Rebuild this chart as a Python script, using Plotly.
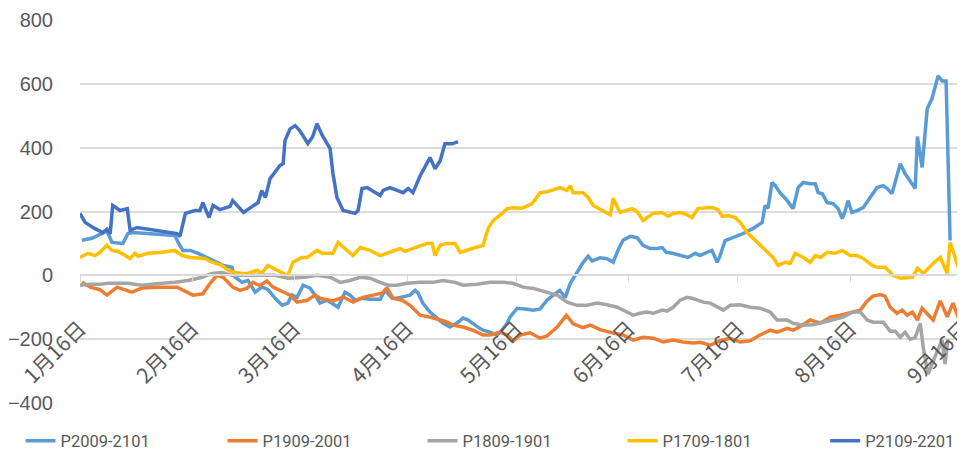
import plotly.graph_objects as go
import pandas as pd

# ---------------- data (days since 1月16日, spread values) ----------------
base_date = "2021-01-16"

p2009_days = [0.5, 3.3, 6, 7.4, 8.8, 11.8, 13.2, 14.6, 26.1, 27,
              28.3, 30.3, 32.5, 35.2, 37.2, 39.4, 41.8, 42.7, 44.6, 46.2,
              48.2, 50, 51.7, 53.7, 55.6, 57.2, 58.3, 59.7, 61.4, 63.3,
              64.7, 66, 68, 69.6, 71, 72.9, 74.3, 75.7, 77.6, 79.8,
              82.6, 83.9, 85.9, 87.2, 90.8, 92.2, 93, 94.3, 96.3, 98.2,
              99.9, 101.8, 104, 105.4, 106.8, 109.2, 110.9, 112.8, 114.8, 116.1,
              117.5, 118.3, 120.3, 123, 124.7, 126.6, 128.5, 130.2, 132, 133.5,
              134.9, 136.8, 138.4, 139.8, 140.9, 143.1, 145, 146.7, 148, 149.4,
              151.4, 153.3, 154.9, 156.9, 158.8, 160.2, 161.3, 163, 165, 167.3,
              169.3, 170.6, 172.5, 173.9, 175.3, 176, 177.5, 179.7, 182.5, 185.2,
              186.6, 187.7, 188.5, 189.3, 190.4, 191.3, 192.6, 194.6, 196.2, 197.6,
              199, 200.9, 202.3, 203.1, 204.2, 205.6, 207.2, 208.6, 209.7, 210.5,
              211.3, 212.4, 213.8, 215.5, 217.4, 219.3, 221, 222.1, 223.4, 225.7,
              227, 229, 229.8, 230.4, 231.7, 233.1, 234.4, 236.1, 237.2, 238.3,
              239.4]
p2009_vals = [110, 116, 131, 140, 103, 100, 131, 134, 125, 103,
              78, 78, 69, 53, 41, 31, 25, -6, -22, -16,
              -53, -37, -44, -72, -94, -87, -62, -69, -31, -40,
              -62, -87, -78, -90, -100, -53, -62, -78, -72, -75,
              -75, -47, -72, -72, -62, -47, -55, -87, -115, -134,
              -150, -162, -147, -134, -140, -160, -172, -178, -187, -172,
              -150, -131, -103, -106, -109, -105, -78, -62, -47, -70,
              -25, 10, 40, 60, 45, 55, 52, 41, 78, 110,
              122, 118, 94, 84, 84, 87, 72, 69, 62, 56,
              69, 62, 72, 78, 41, 58, 109, 119, 131, 147,
              156, 166, 219, 210, 291, 281, 259, 234, 209, 275,
              291, 287, 287, 259, 256, 228, 225, 209, 178, 200,
              234, 197, 203, 212, 244, 275, 281, 272, 256, 350,
              319, 287, 272, 435, 338, 522, 553, 625, 609, 609,
              109]

p1909_days = [0.5, 2.8, 5.5, 7.4, 10.2, 12.4, 14.3, 17, 21.2, 26.7,
              29.4, 31.1, 33.8, 35.8, 37.7, 39.4, 42, 44, 46, 47.6,
              49.5, 51.4, 53.1, 55.9, 57.8, 59.7, 62.5, 64.7, 66, 69.6,
              72.4, 75.1, 77.9, 80.6, 83.1, 84.5, 86.1, 88.6, 90.8, 93.6,
              96.3, 99.1, 101, 102.6, 105.4, 108.1, 110.9, 112.8, 115.6, 117.5,
              119.2, 121.1, 123.8, 126.6, 128.5, 131.3, 133.8, 135.7, 138.4, 140.4,
              143.1, 146.7, 149.4, 152.2, 154.9, 157.7, 160.5, 163.2, 165.9, 168.7,
              170.6, 173.4, 176.1, 178.9, 181.6, 184.4, 187.1, 189.9, 191.8, 194.6,
              196.2, 198.2, 200.9, 203.7, 206.4, 209.2, 212.7, 214.7, 216.6, 218.2,
              220.2, 221.5, 222.9, 224.8, 226.2, 227.6, 229, 230.4, 231.7, 233.1,
              234.7, 236.7, 238.6, 240.2, 241.6, 243.5]
p1909_vals = [-22, -37, -45, -62, -37, -45, -53, -40, -37, -37,
              -53, -62, -58, -25, 0, -6, -37, -47, -40, -22,
              -32, -18, -37, -53, -62, -84, -78, -62, -72, -80,
              -68, -84, -69, -62, -56, -40, -72, -78, -94, -125,
              -131, -140, -147, -156, -162, -172, -187, -187, -178, -187,
              -206, -187, -180, -197, -190, -162, -125, -152, -164, -156,
              -170, -181, -187, -203, -194, -197, -209, -203, -209, -212,
              -210, -219, -205, -197, -209, -205, -187, -172, -178, -166,
              -172, -160, -140, -150, -131, -125, -115, -109, -80, -65,
              -60, -65, -100, -119, -109, -125, -115, -140, -103, -119,
              -140, -80, -130, -87, -131, -172]

p1809_days = [0, 2.8, 5.5, 7.7, 13.2, 17, 22.6, 26.1, 29.7, 33.6,
              36.3, 39.1, 41.8, 44.6, 48.2, 53.7, 57.2, 62, 65.2, 68.8,
              71.6, 74.3, 77.1, 79.8, 82.6, 84.8, 87.2, 90, 93.6, 97.1,
              99.9, 103.2, 105.4, 109.2, 112.8, 116.4, 119.2, 121.9, 124.7, 128.5,
              131.3, 134, 136.8, 139.5, 142.3, 145, 147.8, 150.5, 152.2, 154.1,
              156, 157.7, 160.2, 161.5, 163.2, 165.1, 167, 168.4, 169.8, 171.5,
              173.4, 175.3, 177, 178.9, 181.6, 184.4, 187.1, 189.9, 191.8, 194.6,
              196.2, 199, 201.7, 204.5, 207.2, 210, 212.7, 214.7, 216.6, 218.2,
              221, 222.9, 224.3, 225.7, 227, 228.4, 229.8, 231.2, 232, 233.3,
              234.7, 236.1, 237.2, 238, 238.8]
p1809_vals = [-31, -28, -28, -25, -25, -31, -25, -22, -16, -6,
              6, 9, 0, 0, 0, 0, -9, -6, 0, -6,
              -22, -16, -6, -9, -22, -31, -31, -25, -22, -22,
              -16, -22, -31, -28, -22, -22, -25, -37, -41, -53,
              -62, -84, -94, -94, -87, -92, -100, -115, -125, -119,
              -115, -119, -109, -112, -100, -78, -69, -72, -78, -84,
              -87, -100, -109, -94, -92, -100, -103, -115, -140, -140,
              -150, -156, -155, -147, -140, -131, -115, -115, -140, -147,
              -147, -175, -175, -194, -178, -200, -195, -150, -225, -310,
              -270, -234, -203, -278, -200]

p1709_days = [0, 2.2, 4.1, 5.5, 7.4, 8.8, 10.5, 12.4, 13.8, 15.1,
              16, 18.7, 22.6, 26.1, 28.1, 30.3, 32.5, 34.4, 36.3, 39.1,
              40.7, 42.7, 44.6, 46.2, 48.7, 50, 51.7, 53.1, 54.5, 55.9,
              57.2, 58.6, 61, 62.5, 65.2, 66.6, 69.6, 71, 72.9, 75.1,
              77.1, 79.8, 82.6, 85.3, 88.1, 89.4, 92.2, 95.5, 96.9, 97.7,
              99.1, 101, 103.2, 104.6, 107.9, 110.9, 112.3, 113.7, 116.2, 117.5,
              119.2, 121.6, 124.4, 126.6, 128.5, 132.1, 134, 134.9, 135.7, 138.4,
              139.8, 141.2, 145.9, 146.7, 148.6, 150.5, 151.9, 153.3, 154.9, 157.7,
              160.2, 161.8, 163.2, 165.1, 167, 168.4, 170, 172.5, 174.2, 175.6,
              176.7, 178.3, 180.3, 181.6, 183.6, 185.2, 188, 190.7, 192.1, 194,
              195.4, 196.8, 199, 200.9, 202.3, 203.7, 205.6, 207.8, 209.7, 211.9,
              213.8, 215.5, 218, 219.3, 221.5, 223.7, 225.7, 227.6, 229, 230.4,
              232, 234.7, 236.7, 238.6, 239.4, 240.8, 242.2, 243.5]
p1709_vals = [56, 69, 62, 72, 94, 78, 75, 62, 53, 69,
              60, 69, 72, 78, 62, 56, 53, 53, 41, 31,
              16, 9, 6, 6, 16, 6, 31, 22, 16, 6,
              0, 41, 56, 56, 78, 69, 69, 103, 84, 62,
              87, 78, 62, 72, 84, 75, 87, 100, 100, 62,
              94, 100, 100, 72, 84, 94, 147, 172, 194, 209,
              212, 210, 225, 259, 262, 275, 266, 281, 259, 259,
              244, 219, 190, 241, 197, 205, 209, 200, 172, 194,
              197, 185, 194, 197, 190, 181, 209, 212, 212, 205,
              185, 187, 181, 166, 134, 116, 87, 56, 31, 41,
              37, 69, 56, 41, 62, 56, 72, 69, 78, 62,
              62, 53, 31, 25, 25, 0, -9, -6, -6, 22,
              6, 37, 56, 6, 103, 56, 6, -25]

p2109_days = [0, 1.4, 4, 6.3, 7.4, 8.3, 9, 11, 13, 13.8,
              15.7, 26.7, 27.5, 29, 31.6, 33, 33.8, 35.5, 36.6, 38.5,
              41.3, 42, 45, 48, 49, 50, 51, 52.3, 55, 55.9,
              56.4, 57.8, 59.2, 60.5, 62.7, 64, 65.2, 66.6, 68.8, 69.6,
              70.7, 72.4, 75.7, 76.5, 77.6, 79, 82.6, 83.4, 85.3, 88.9,
              90.3, 91.6, 93.6, 96.3, 97.7, 99.1, 100.4, 102.4, 104]
p2109_vals = [194, 166, 147, 134, 144, 130, 219, 203, 209, 141,
              150, 131, 122, 194, 203, 203, 228, 181, 219, 206,
              216, 234, 197, 222, 228, 266, 244, 303, 344, 350,
              422, 459, 469, 453, 413, 434, 475, 440, 397, 319,
              244, 203, 194, 203, 272, 275, 250, 266, 275, 259,
              272, 259, 312, 369, 334, 359, 412, 412, 419]

tick_dates = ["2021-01-16", "2021-02-16", "2021-03-16", "2021-04-16", "2021-05-16",
              "2021-06-16", "2021-07-16", "2021-08-16", "2021-09-16"]
tick_labels = ["1月16日", "2月16日", "3月16日", "4月16日", "5月16日",
               "6月16日", "7月16日", "8月16日", "9月16日"]

series = [
    ("P2009-2101", p2009_days, p2009_vals, "#5B9BD5"),
    ("P1909-2001", p1909_days, p1909_vals, "#ED7D31"),
    ("P1809-1901", p1809_days, p1809_vals, "#A5A5A5"),
    ("P1709-1801", p1709_days, p1709_vals, "#FFC000"),
    ("P2109-2201", p2109_days, p2109_vals, "#4472C4"),
]

base = pd.Timestamp(base_date)


def to_dates(days):
    return [base + pd.Timedelta(days=d) for d in days]


legend_ids = ["legend", "legend2", "legend3", "legend4", "legend5"]
legend_x = [-0.0672, 0.161, 0.387, 0.613, 0.842]

fig = go.Figure()
for (name, days, vals, color), lid in zip(series, legend_ids):
    assert len(days) == len(vals), name
    fig.add_trace(go.Scatter(
        x=to_dates(days), y=vals, name=name, mode="lines",
        line=dict(color=color, width=3.5), legend=lid,
    ))

legend_font = dict(family="Roboto, sans-serif", size=16.5, color="#595959")
legends = {}
for lid, lx in zip(legend_ids, legend_x):
    legends[lid] = dict(
        orientation="h", x=lx, xanchor="left", y=-0.099, yanchor="middle",
        font=legend_font, itemwidth=30, bgcolor="rgba(0,0,0,0)",
    )

# page body has an 8px default margin, so the figure is 8px smaller than the window
fig.update_layout(
    width=957, height=458,
    margin=dict(l=72, r=0, t=12, b=63, autoexpand=False),
    plot_bgcolor="white", paper_bgcolor="white",
    showlegend=True,
    xaxis=dict(
        type="date",
        range=[base, base + pd.Timedelta(days=243.5)],
        tickvals=tick_dates, ticktext=tick_labels, tickangle=-45,
        anchor="free", position=1 / 3,
        showline=True, linecolor="#D9D9D9", linewidth=1.5,
        ticks="outside", ticklen=6, tickcolor="#D9D9D9",
        showgrid=False, zeroline=False,
        tickfont=dict(family="Noto Sans CJK SC", size=21, color="#595959"),
        ticklabelstandoff=26, ticklabeloverflow="allow",
    ),
    yaxis=dict(
        range=[-400, 800], dtick=200, tick0=0,
        showgrid=True, gridcolor="#DCDCDC", gridwidth=1.5,
        zeroline=False, showline=False,
        tickfont=dict(family="Liberation Sans, Arial, sans-serif", size=20, color="#595959"),
        ticklabelstandoff=26,
    ),
    **legends,
)

fig.write_html("out.html")
